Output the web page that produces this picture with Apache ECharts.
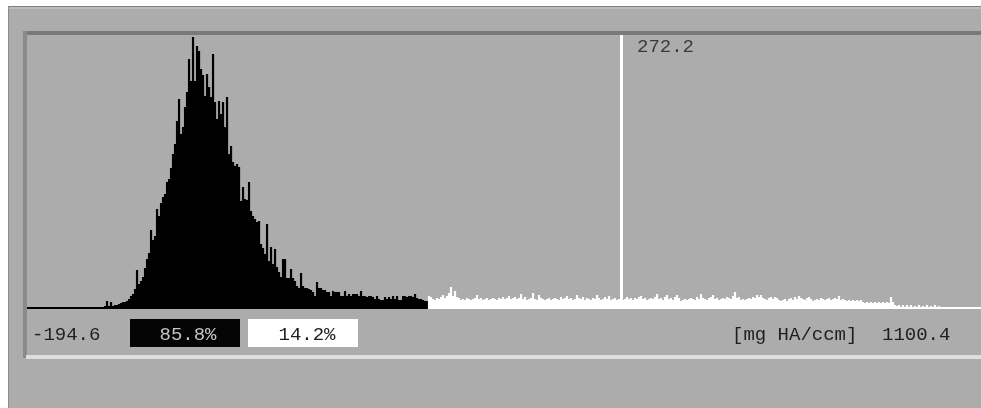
<!DOCTYPE html>
<html>
<head>
<meta charset="utf-8">
<script src="https://cdn.jsdelivr.net/npm/echarts@6/dist/echarts.min.js"></script>
<style>
html,body{margin:0;padding:0;background:#fff;}
#chart{width:981px;height:408px;}
</style>
</head>
<body>
<div id="chart"></div>
<script>
// ---- data ----
const xRange = [-194.6, 1100.4];            // data range shown in the labels [mg HA/ccm]
const xVisible = [-194.6, 555.1];           // part of the axis visible in the panel
const rangeLabels = ['-194.6', '1100.4'];
const percentLabels = ['85.8%', '14.2%'];   // below / above threshold
const unitLabel = '[mg HA/ccm]';
const markerValue = 272.2;
const markerLabel = '272.2';
const thresholdValue = 120.5;               // black / white split
const binStart = -137.2;
const binWidth = 1.5716;

// bin counts below threshold (black)
const belowCounts = [
  1,1,2,7,2,6,2,3,3,4,
  5,6,6,7,9,12,14,19,38,24,
  27,31,40,49,55,78,68,72,99,92,
  105,111,114,126,129,140,154,164,187,209,
  174,181,201,216,249,227,271,227,262,257,
  239,233,212,234,221,211,254,206,189,207,
  194,206,181,211,154,162,146,142,144,141,
  107,121,109,108,126,97,92,89,86,87,
  64,60,54,84,47,61,44,59,41,36,
  31,49,49,30,30,39,30,27,22,20,
  35,22,20,20,19,18,16,12,26,20,
  20,18,18,16,16,12,17,16,16,16,
  12,12,17,12,14,12,14,14,14,12,
  17,12,12,11,12,12,11,9,12,9,
  8,8,11,9,11,9,12,9,12,8,
  8,12,12,11,12,12,11,14,10,9,
  9,8,7,7
];
// bin counts above threshold (white)
const aboveCounts = [
  12,11,9,8,10,9,11,13,10,12,
  15,21,12,17,11,10,8,9,8,10,
  9,8,9,10,13,9,10,8,9,10,
  8,9,10,9,8,10,9,11,9,10,
  12,9,10,11,9,10,14,9,11,8,
  9,10,15,9,8,13,10,9,8,9,
  10,8,9,10,9,8,11,9,10,12,
  9,10,8,9,13,10,9,11,8,10,
  9,8,10,9,13,10,8,9,11,9,
  12,8,9,10,8,9,10,8,9,11,
  9,10,8,10,9,11,12,9,10,8,
  9,10,9,11,14,9,10,8,11,13,
  9,10,8,11,13,10,7,8,9,8,
  9,10,9,8,11,9,14,10,9,8,
  10,11,13,9,10,8,9,10,9,11,
  10,9,12,16,10,11,8,9,8,9,
  10,9,11,10,13,11,13,10,9,8,
  10,11,9,11,10,8,7,8,9,7,
  9,10,8,11,9,12,10,9,8,10,
  11,9,7,8,9,8,10,9,8,9,
  10,8,9,10,9,12,8,9,8,7,
  8,7,8,7,8,7,8,6,5,6,
  5,6,5,6,5,6,5,6,5,6,
  5,11,6,3,2,3,1,3,1,3,
  1,3,1,2,1,3,1,2,1,3,
  1,2,0,3,0,2
];

// ---- build ----
const counts = belowCounts.concat(aboveCounts);
const histData = counts.map((c, k) => [binStart + (k + 0.5) * binWidth, c]);

const FONT = "'Liberation Mono', 'DejaVu Sans Mono', monospace";
const FS = 19;

const chart = echarts.init(document.getElementById('chart'), null, {renderer: 'canvas'});

function txt(x, y, text, fill, align) {
  return {
    type: 'text', x: x, y: y, z: 10,
    style: {text: text, fill: fill, fontFamily: FONT, fontSize: FS,
            align: align || 'left', verticalAlign: 'middle'}
  };
}

chart.setOption({
  animation: false,
  backgroundColor: '#ffffff',
  grid: {left: 27, top: 35, right: 0, height: 273},
  xAxis: {type: 'value', min: xVisible[0], max: xVisible[1], show: false},
  yAxis: {type: 'value', min: 0, max: 273, show: false},
  graphic: [
    {type: 'rect', z: 0, shape: {x: 8, y: 6, width: 973, height: 402}, style: {fill: '#acacac'}},
    {type: 'rect', z: 1, shape: {x: 8, y: 6, width: 973, height: 1}, style: {fill: '#7e7e7e'}},
    {type: 'rect', z: 1, shape: {x: 9, y: 7, width: 972, height: 2}, style: {fill: '#bcbcbc'}},
    {type: 'rect', z: 1, shape: {x: 8, y: 6, width: 1, height: 402}, style: {fill: '#8c8c8c'}},
    {type: 'rect', z: 1, shape: {x: 23, y: 31, width: 958, height: 4}, style: {fill: '#7a7a7a'}},
    {type: 'rect', z: 1, shape: {x: 23, y: 31, width: 4, height: 327}, style: {fill: '#8a8a8a'}},
    {type: 'rect', z: 1, shape: {x: 26, y: 355, width: 955, height: 4}, style: {fill: '#dedede'}},
    {type: 'rect', z: 2, shape: {x: 130, y: 319, width: 110, height: 28}, style: {fill: '#050505'}},
    {type: 'rect', z: 2, shape: {x: 248, y: 319, width: 110, height: 28}, style: {fill: '#ffffff'}},
    txt(32, 334.5, rangeLabels[0], '#1e1e1e'),
    txt(188, 334.5, percentLabels[0], '#c4c4c4', 'center'),
    txt(307, 334.5, percentLabels[1], '#1e1e1e', 'center'),
    txt(732, 334.5, unitLabel, '#1e1e1e'),
    txt(882, 334.5, rangeLabels[1], '#1e1e1e')
  ],
  series: [
    {
      type: 'bar', name: 'histogram', data: histData, barWidth: 2.2, z: 3,
      itemStyle: {color: p => (p.value[0] < thresholdValue ? '#000000' : '#ffffff')},
      markLine: {
        silent: true, symbol: ['none', 'none'],
        label: {show: false},
        lineStyle: {color: '#ffffff', width: 3, type: 'solid', opacity: 1},
        data: [{xAxis: markerValue}]
      }
    },
    {
      type: 'line', name: 'baseBelow', data: [[xVisible[0], 0], [thresholdValue, 0]],
      symbol: 'none', z: 4, lineStyle: {color: '#000000', width: 2}
    },
    {
      type: 'line', name: 'baseAbove', data: [[thresholdValue, 0], [xVisible[1], 0]],
      symbol: 'none', z: 4, lineStyle: {color: '#ffffff', width: 2}
    },
    {
      type: 'scatter', name: 'markerLabel', data: [[markerValue, 273]],
      symbolSize: 0, z: 5, silent: true,
      label: {show: true, formatter: markerLabel, position: [16, 11.5],
              align: 'left', verticalAlign: 'middle',
              color: '#1e1e1e', fontFamily: FONT, fontSize: FS}
    }
  ]
});
</script>
</body>
</html>
